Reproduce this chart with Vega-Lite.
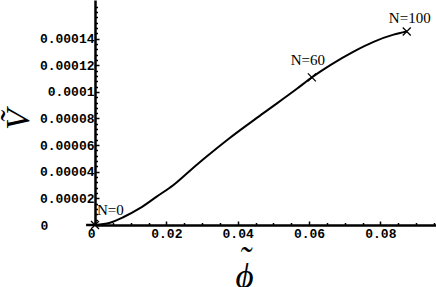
{
  "$schema": "https://vega.github.io/schema/vega-lite/v6.json",
  "width": 341,
  "height": 225,
  "autosize": "none",
  "padding": {"left": 95, "top": 0, "right": 0, "bottom": 62},
  "background": "white",
  "config": {"view": {"stroke": null}},
  "datasets": {
    "curve": [
      {"phi": 0, "V": 0},
      {"phi": 0.0042, "V": 0.0000017},
      {"phi": 0.0079, "V": 0.0000058},
      {"phi": 0.0126, "V": 0.0000126},
      {"phi": 0.0173, "V": 0.0000213},
      {"phi": 0.022, "V": 0.0000301},
      {"phi": 0.0267, "V": 0.0000410},
      {"phi": 0.0313, "V": 0.0000514},
      {"phi": 0.0375, "V": 0.0000648},
      {"phi": 0.0472, "V": 0.0000840},
      {"phi": 0.0566, "V": 0.0001023},
      {"phi": 0.0608, "V": 0.0001109},
      {"phi": 0.0662, "V": 0.0001205},
      {"phi": 0.0725, "V": 0.0001303},
      {"phi": 0.0781, "V": 0.0001376},
      {"phi": 0.0837, "V": 0.0001430},
      {"phi": 0.0874, "V": 0.0001453}
    ],
    "points": [
      {"phi": 0, "V": 0, "label": "N=0"},
      {"phi": 0.0608, "V": 0.0001109, "label": "N=60"},
      {"phi": 0.0874, "V": 0.0001453, "label": "N=100"}
    ],
    "ext": [{"a": -0.0025, "b": 0, "v": 0}]
  },
  "layer": [
    {
      "data": {"name": "curve"},
      "mark": {"type": "line", "color": "black", "strokeWidth": 2, "interpolate": "monotone"},
      "encoding": {
        "x": {
          "field": "phi", "type": "quantitative",
          "scale": {"domain": [0, 0.0956], "nice": false, "zero": false},
          "axis": {
            "orient": "bottom",
            "values": [0, 0.02, 0.04, 0.06, 0.08],
            "labelExpr": "format(datum.value, '.2~f')",
            "labelFont": "Liberation Mono", "labelFontWeight": "bold", "labelFontSize": 13, "labelColor": "black",
            "labelAlign": {"condition": {"test": "datum.value === 0", "value": "right"}, "value": "center"},
            "labelPadding": 6, "labelFlush": false, "labelOverlap": false,
            "tickSize": -4, "tickWidth": 1.5, "tickColor": "black",
            "domainColor": "black", "domainWidth": 2.5, "grid": false,
            "title": ["˜", "ϕ"], "titleFont": "Liberation Serif", "titleFontStyle": "italic", "titleFontWeight": "normal",
            "titleFontSize": 35, "titleLineHeight": 16, "titleColor": "black", "titleX": 149, "titleY": 18, "titleBaseline": "top", "titleAlign": "center"
          }
        },
        "y": {
          "field": "V", "type": "quantitative",
          "scale": {"domain": [0, 0.000169], "nice": false, "zero": false},
          "axis": {
            "orient": "left",
            "values": [0, 0.00002, 0.00004, 0.00006, 0.00008, 0.0001, 0.00012, 0.00014],
            "labelExpr": "format(datum.value, '.5~f')",
            "labelFont": "Liberation Mono", "labelFontWeight": "bold", "labelFontSize": 13, "labelColor": "black",
            "labelAlign": {"condition": {"test": "datum.value === 0", "value": "left"}, "value": "right"},
            "labelPadding": {"condition": {"test": "datum.value === 0", "value": 59}, "value": 5},
            "labelFlush": false, "labelOverlap": false,
            "tickSize": -4, "tickWidth": 1.5, "tickColor": "black",
            "domainColor": "black", "domainWidth": 2.5, "grid": false,
            "title": "Ṽ", "titleFont": "Liberation Serif", "titleFontStyle": "italic", "titleFontWeight": "normal",
            "titleFontSize": 34, "titleColor": "black", "titleX": -77, "titleY": 119, "titleAngle": -90,
            "titleBaseline": "middle", "titleAlign": "center"
          }
        }
      }
    },
    {
      "data": {"name": "curve"},
      "mark": {"type": "point", "opacity": 0},
      "encoding": {
        "x": {
          "field": "phi", "type": "quantitative",
          "axis": {
            "orient": "bottom",
            "values": [0.005, 0.01, 0.015, 0.025, 0.03, 0.035, 0.045, 0.05, 0.055, 0.065, 0.07, 0.075, 0.085, 0.09, 0.095],
            "labels": false, "domain": false, "grid": false, "title": null,
            "tickSize": -2.5, "tickWidth": 1.5, "tickColor": "black"
          }
        },
        "y": {
          "field": "V", "type": "quantitative",
          "axis": {
            "orient": "left",
            "values": [0.000004, 0.000008, 0.000012, 0.000016, 0.000024, 0.000028, 0.000032, 0.000036, 0.000044, 0.000048, 0.000052, 0.000056, 0.000064, 0.000068, 0.000072, 0.000076, 0.000084, 0.000088, 0.000092, 0.000096, 0.000104, 0.000108, 0.000112, 0.000116, 0.000124, 0.000128, 0.000132, 0.000136, 0.000144, 0.000148, 0.000152, 0.000156, 0.000160, 0.000164],
            "labels": false, "domain": false, "grid": false, "title": null,
            "tickSize": -2.5, "tickWidth": 1.5, "tickColor": "black"
          }
        }
      }
    },
    {
      "data": {"name": "ext"},
      "mark": {"type": "rule", "color": "black", "strokeWidth": 2.5, "clip": false},
      "encoding": {
        "x": {"field": "a", "type": "quantitative", "axis": null},
        "x2": {"field": "b"},
        "y": {"field": "v", "type": "quantitative", "axis": null}
      }
    },
    {
      "data": {"name": "points"},
      "mark": {"type": "point", "shape": "M-1,-1L1,1M1,-1L-1,1", "size": 64, "stroke": "black", "strokeWidth": 1.3, "filled": false, "opacity": 1},
      "encoding": {
        "x": {"field": "phi", "type": "quantitative", "axis": null},
        "y": {"field": "V", "type": "quantitative", "axis": null}
      }
    },
    {
      "data": {"name": "points"},
      "transform": [{"filter": "datum.label === 'N=0'"}],
      "mark": {"type": "text", "font": "Liberation Serif", "fontSize": 15, "align": "left", "baseline": "alphabetic", "dx": 2, "dy": -10, "color": "black"},
      "encoding": {
        "x": {"field": "phi", "type": "quantitative", "axis": null},
        "y": {"field": "V", "type": "quantitative", "axis": null},
        "text": {"field": "label"}
      }
    },
    {
      "data": {"name": "points"},
      "transform": [{"filter": "datum.label === 'N=60'"}],
      "mark": {"type": "text", "font": "Liberation Serif", "fontSize": 15, "align": "center", "baseline": "alphabetic", "dx": -4, "dy": -12, "color": "black"},
      "encoding": {
        "x": {"field": "phi", "type": "quantitative", "axis": null},
        "y": {"field": "V", "type": "quantitative", "axis": null},
        "text": {"field": "label"}
      }
    },
    {
      "data": {"name": "points"},
      "transform": [{"filter": "datum.label === 'N=100'"}],
      "mark": {"type": "text", "font": "Liberation Serif", "fontSize": 15, "align": "center", "baseline": "alphabetic", "dx": 3, "dy": -9, "color": "black"},
      "encoding": {
        "x": {"field": "phi", "type": "quantitative", "axis": null},
        "y": {"field": "V", "type": "quantitative", "axis": null},
        "text": {"field": "label"}
      }
    }
  ],
  "resolve": {"axis": {"x": "independent", "y": "independent"}}
}
